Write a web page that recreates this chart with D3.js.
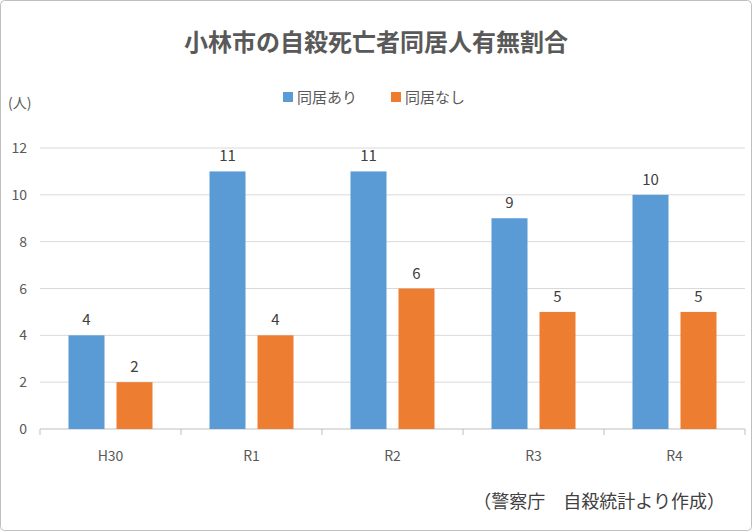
<!DOCTYPE html>
<html><head><meta charset="utf-8">
<script src="https://cdn.jsdelivr.net/npm/d3@7"></script>
<style>body{margin:0;background:#fff}</style></head>
<body><svg id="c" width="752" height="531"></svg>
<script>
const categories=["H30","R1","R2","R3","R4"];
const seriesNames=["同居あり","同居なし"];
const withCohab=[4,11,11,9,10];
const withoutCohab=[2,4,6,5,5];
const yTicks=[0,2,4,6,8,10,12];
const colors=["#5b9bd5","#ed7d31"];
const font="'Noto Sans CJK JP','Noto Sans',sans-serif";
const svg=d3.select("#c");
svg.append("rect").attr("x",0.5).attr("y",0.5).attr("width",751).attr("height",530).attr("rx",4).attr("fill","#fff").attr("stroke","#bfbfbf");
const L=40,R=745,T=148,B=429;
const y=d3.scaleLinear().domain([0,12]).range([B,T]);
const x0=d3.scaleBand().domain(categories).range([L,R]).padding(0);
const bw=x0.bandwidth();
const x1=d3.scaleBand().domain(seriesNames).range([bw/2-42,bw/2+42]).paddingInner(0.25);
svg.append("g").selectAll("line").data(yTicks).join("line")
 .attr("x1",L).attr("x2",R).attr("y1",d=>y(d)).attr("y2",d=>y(d))
 .attr("stroke",(d)=>d===0?"#bfbfbf":"#d9d9d9");
svg.append("g").selectAll("text").data(yTicks).join("text")
 .attr("x",27).attr("y",d=>y(d)+5).attr("text-anchor","end").attr("font-size",14).attr("fill","#595959").attr("font-family",font).text(d=>d);
// x ticks
svg.append("g").selectAll("line").data(d3.range(categories.length+1)).join("line")
 .attr("x1",i=>L+i*bw).attr("x2",i=>L+i*bw).attr("y1",B).attr("y2",B+6).attr("stroke","#bfbfbf");
svg.append("g").selectAll("text").data(categories).join("text")
 .attr("x",d=>x0(d)+bw/2).attr("y",461).attr("text-anchor","middle").attr("font-size",14).attr("fill","#595959").attr("font-family",font).text(d=>d);
const series=[withCohab,withoutCohab];
series.forEach((vals,si)=>{
 const g=svg.append("g");
 g.selectAll("rect").data(vals).join("rect")
  .attr("x",(d,i)=>x0(categories[i])+x1(seriesNames[si])).attr("width",x1.bandwidth())
  .attr("y",d=>y(d)).attr("height",d=>B-y(d)).attr("fill",colors[si]);
 g.selectAll("text").data(vals).join("text")
  .attr("x",(d,i)=>x0(categories[i])+x1(seriesNames[si])+x1.bandwidth()/2).attr("y",d=>y(d)-10)
  .attr("text-anchor","middle").attr("font-size",15).attr("fill","#404040").attr("font-family",font).text(d=>d);
});
svg.append("text").attr("x",376).attr("y",51).attr("text-anchor","middle").attr("font-size",24).attr("font-weight","bold").attr("fill","#595959").attr("font-family",font).text("小林市の自殺死亡者同居人有無割合");
svg.append("text").attr("x",8).attr("y",108).attr("font-size",14).attr("fill","#595959").attr("font-family",font).text("(人)");
const lx=[283,391];
seriesNames.forEach((n,i)=>{
 svg.append("rect").attr("x",lx[i]).attr("y",92).attr("width",10).attr("height",10).attr("fill",colors[i]);
 svg.append("text").attr("x",lx[i]+14).attr("y",103).attr("font-size",15).attr("fill","#595959").attr("font-family",font).text(n);
});
svg.append("text").attr("x",725).attr("y",508).attr("text-anchor","end").attr("font-size",18).attr("fill","#404040").attr("font-family",font).text("（警察庁　自殺統計より作成）");
</script></body></html>
